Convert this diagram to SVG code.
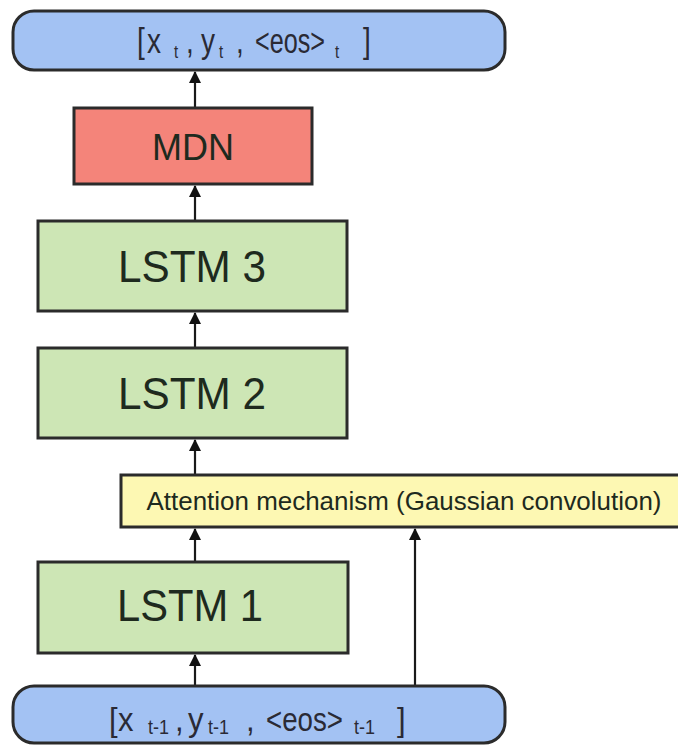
<svg xmlns="http://www.w3.org/2000/svg" width="678" height="747" viewBox="0 0 678 747">
  <style>
    .box { stroke: #2b2b2b; stroke-width: 3; }
    .io { fill: #a3c2f3; }
    .mdn { fill: #f4847a; }
    .lstm { fill: #cde6b5; }
    .att { fill: #fdf8b3; }
    .lbl { font-family: "Liberation Sans", Arial, sans-serif; fill: #1e2a1e; text-anchor: middle; }
    .seq { font-family: "Liberation Sans", Arial, sans-serif; fill: #2a2a35; }
    .wire { stroke: #1a1a1a; stroke-width: 2.2; fill: none; marker-end: url(#head); }
  </style>
  <defs>
    <marker id="head" viewBox="0 0 12 12" refX="11" refY="6" markerWidth="12" markerHeight="12" markerUnits="userSpaceOnUse" orient="auto">
      <path d="M0,0 L12,6 L0,12 z" fill="#111"/>
    </marker>
  </defs>

  <rect width="678" height="747" fill="#ffffff"/>

  <g id="connectors">
    <line class="wire" x1="195" y1="686" x2="195" y2="655"/>
    <line class="wire" x1="195" y1="562" x2="195" y2="529"/>
    <line class="wire" x1="415" y1="686" x2="415" y2="529"/>
    <line class="wire" x1="195" y1="475" x2="195" y2="440"/>
    <line class="wire" x1="195" y1="348" x2="195" y2="313"/>
    <line class="wire" x1="195" y1="221" x2="195" y2="186"/>
    <line class="wire" x1="195" y1="108" x2="195" y2="72"/>
  </g>

  <g id="output">
    <rect class="box io" x="13" y="11" width="492" height="59" rx="21"/>
    <text class="seq" font-size="28" transform="translate(0,53) scale(1,1.25)" y="0"><tspan x="137">[</tspan><tspan x="147">x</tspan><tspan x="174" dy="4" font-size="15">t</tspan><tspan x="186" dy="-4">,</tspan><tspan x="201">y</tspan><tspan x="219" dy="4" font-size="15">t</tspan><tspan x="236" dy="-4">,</tspan><tspan x="255" textLength="70" lengthAdjust="spacingAndGlyphs">&lt;eos&gt;</tspan><tspan x="335" dy="4" font-size="15">t</tspan><tspan x="363" dy="-4">]</tspan></text>
  </g>

  <g id="mdn">
    <rect class="box mdn" x="74" y="108" width="238" height="76"/>
    <text class="lbl" x="193" y="160" font-size="36">MDN</text>
  </g>

  <g id="lstm3">
    <rect class="box lstm" x="38" y="221" width="309" height="90"/>
    <text class="lbl" x="192" y="282" font-size="45" textLength="148" lengthAdjust="spacingAndGlyphs">LSTM 3</text>
  </g>

  <g id="lstm2">
    <rect class="box lstm" x="38" y="348" width="309" height="90"/>
    <text class="lbl" x="192" y="409" font-size="45" textLength="148" lengthAdjust="spacingAndGlyphs">LSTM 2</text>
  </g>

  <g id="attention">
    <rect class="box att" x="121" y="475" width="570" height="52"/>
    <text class="lbl" x="404" y="510" font-size="26" textLength="515" lengthAdjust="spacingAndGlyphs" fill="#333">Attention mechanism (Gaussian convolution)</text>
  </g>

  <g id="lstm1">
    <rect class="box lstm" x="38" y="562" width="310" height="91"/>
    <text class="lbl" x="190" y="621" font-size="45" textLength="146" lengthAdjust="spacingAndGlyphs">LSTM 1</text>
  </g>

  <g id="input">
    <rect class="box io" x="13" y="686" width="492" height="57" rx="21"/>
    <text class="seq" font-size="31" transform="translate(0,731) scale(1,1.1)" y="0"><tspan x="109">[</tspan><tspan x="118">x</tspan><tspan x="148" dy="3" font-size="18">t-1</tspan><tspan x="175" dy="-3">,</tspan><tspan x="188">y</tspan><tspan x="208" dy="3" font-size="18">t-1</tspan><tspan x="246" dy="-3">,</tspan><tspan x="266" textLength="77" lengthAdjust="spacingAndGlyphs">&lt;eos&gt;</tspan><tspan x="354" dy="3" font-size="18">t-1</tspan><tspan x="397" dy="-3">]</tspan></text>
  </g>
</svg>
